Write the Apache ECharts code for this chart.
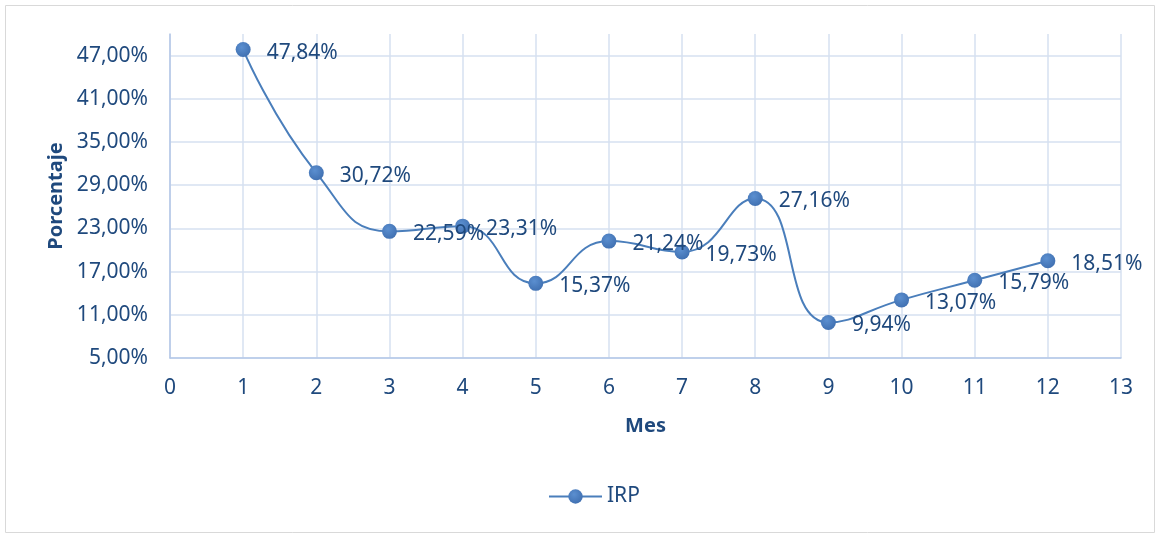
<!DOCTYPE html>
<html><head><meta charset="utf-8">
<script src="https://cdn.jsdelivr.net/npm/echarts@6/dist/echarts.min.js"></script>
<style>html,body{margin:0;padding:0;background:#fff}#c{width:1159px;height:534px}</style>
</head><body><div id="c"></div>
<script>
const months = [1,2,3,4,5,6,7,8,9,10,11,12];
const irp = [47.84,30.72,22.59,23.31,15.37,21.24,19.73,27.16,9.94,13.07,15.79,18.51];
const yTicks = [5,11,17,23,29,35,41,47];
const xTicks = [0,1,2,3,4,5,6,7,8,9,10,11,12,13];
const seriesName = 'IRP';

const txt = '#1F497D';
const font = 'Noto Sans';
const fmt = v => v.toFixed(2).replace('.', ',') + '%';
const chart = echarts.init(document.getElementById('c'));
chart.setOption({
  animation: false,
  textStyle: {fontFamily: font},
  graphic: [{type:'rect', shape:{x:5.5,y:5.5,width:1149,height:527}, style:{fill:'none', stroke:'#D9D9D9', lineWidth:1}, silent:true}],
  grid: {left:170, right:38, top:34, bottom:176},
  legend: {bottom: 22, left: 543, itemWidth: 53, itemHeight: 18, itemGap: 6,
    textStyle:{color:txt, fontSize:21, fontFamily:font},
    data:[seriesName]},
  xAxis: {type:'value', min:xTicks[0], max:xTicks[xTicks.length-1], interval:1,
    name:'Mes', nameLocation:'middle', nameGap:58,
    nameTextStyle:{color:txt, fontSize:20, fontWeight:'bold', fontFamily:font},
    axisLine:{show:true, lineStyle:{color:'#B4C7E7', width:1.5}},
    axisTick:{show:false},
    axisLabel:{color:txt, fontSize:21, margin:20, fontFamily:font},
    splitLine:{show:true, lineStyle:{color:'#D6E0F0', width:1.5}}},
  yAxis: {type:'value', min:yTicks[0], max:50, interval:6,
    name:'Porcentaje', nameLocation:'middle', nameGap:103,
    nameTextStyle:{color:txt, fontSize:20, fontWeight:'bold', fontFamily:font},
    axisLine:{show:true, lineStyle:{color:'#B4C7E7', width:1.5}},
    axisTick:{show:false},
    axisLabel:{color:txt, fontSize:21, margin:22, fontFamily:font, showMaxLabel:false,
      formatter: v => yTicks.includes(v) ? fmt(v) : ''},
    splitLine:{show:true, showMaxLine:false, lineStyle:{color:'#D6E0F0', width:1.5}}},
  series: [{
    name: seriesName, type:'line', smooth:0.5,
    data: months.map((m,i)=>[m, irp[i]]),
    symbol:'circle', symbolSize:15,
    lineStyle:{color:'#4A7EBB', width:2},
    itemStyle:{color: new echarts.graphic.RadialGradient(0.4,0.35,0.7,[{offset:0,color:'#5B8FD0'},{offset:1,color:'#3F6FB0'}]), borderWidth:0},
    label:{show:true, position:'right', distance:16, offset:[0,3], color:txt, fontSize:21, fontFamily:font,
      formatter: p => fmt(p.value[1])}
  }]
});
</script></body></html>
